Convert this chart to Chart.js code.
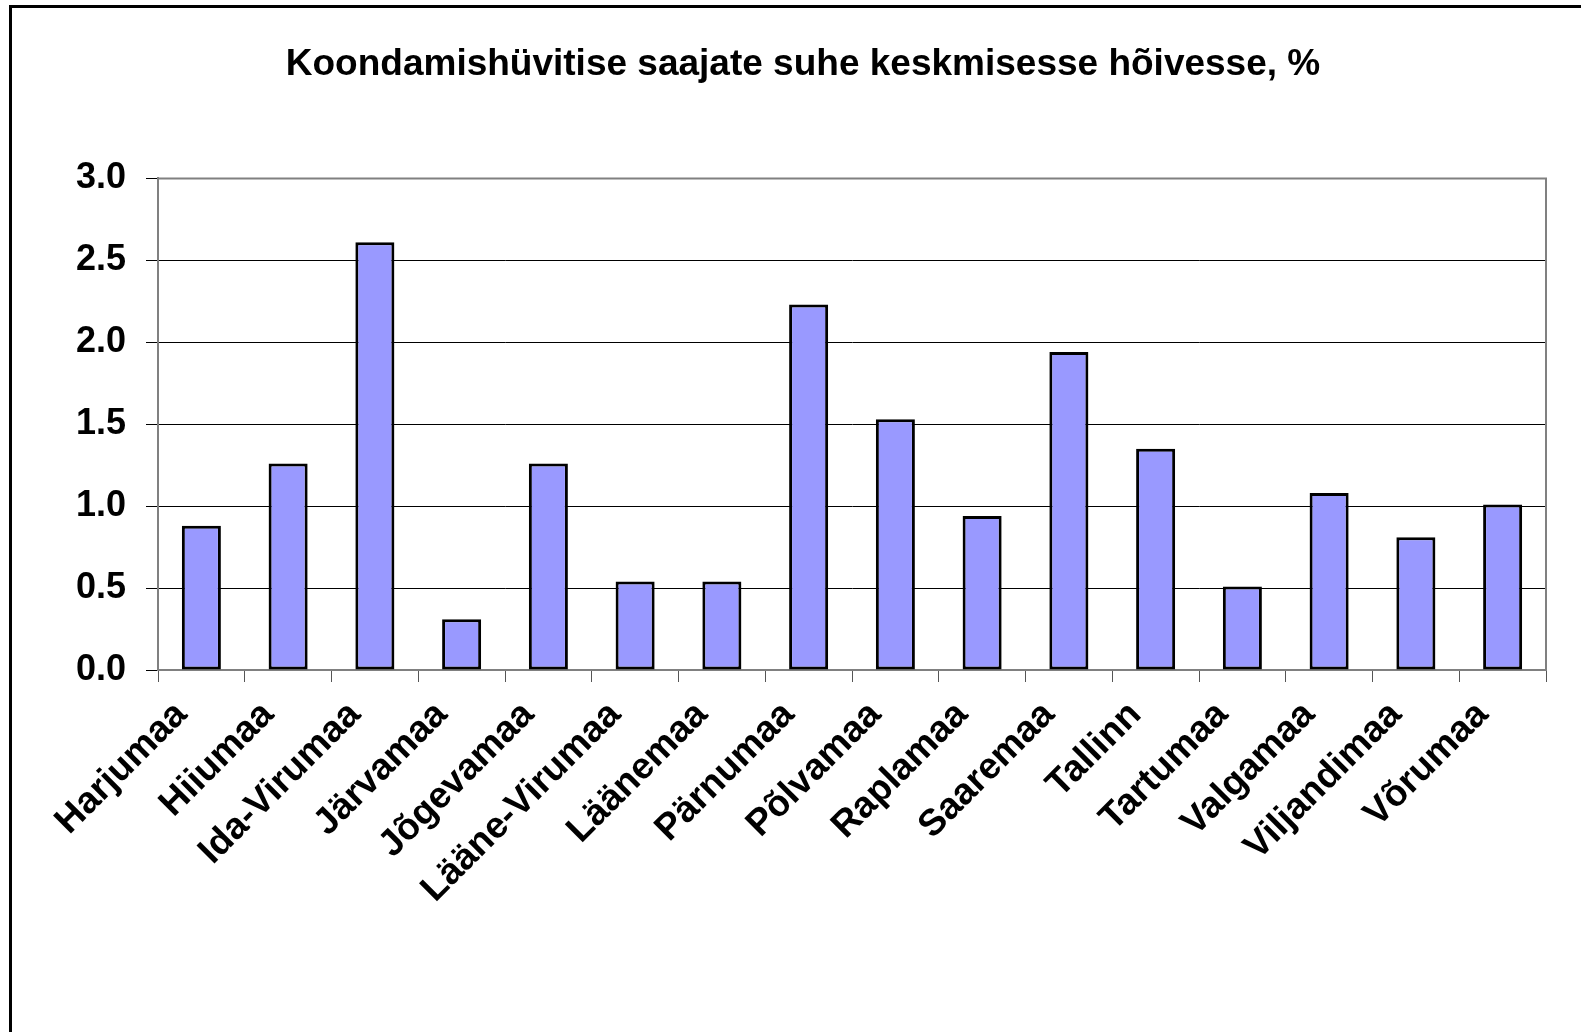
<!DOCTYPE html>
<html>
<head>
<meta charset="utf-8">
<script src="https://cdn.jsdelivr.net/npm/chart.js@4.4.1/dist/chart.umd.min.js"></script>
<style>
  html, body { margin: 0; padding: 0; background: #fff; overflow: hidden; }
  body { width: 1581px; height: 1032px; position: relative; }
  #frame { position: absolute; left: 9px; top: 5px; width: 3000px; height: 3000px;
           border-left: 3px solid #000; border-top: 3px solid #000; box-sizing: border-box; }
  #wrap { position: absolute; left: 0; top: 0; width: 1581px; height: 1032px; }
</style>
</head>
<body>
<div id="frame"></div>
<div id="wrap"><canvas id="c" width="1581" height="1032"></canvas></div>
<script>
const titleText = 'Koondamishüvitise saajate suhe keskmisesse hõivesse, %';
const categories = ['Harjumaa', 'Hiiumaa', 'Ida-Virumaa', 'Järvamaa', 'Jõgevamaa', 'Lääne-Virumaa',
  'Läänemaa', 'Pärnumaa', 'Põlvamaa', 'Raplamaa', 'Saaremaa', 'Tallinn', 'Tartumaa', 'Valgamaa',
  'Viljandimaa', 'Võrumaa'];
const values = [0.88, 1.26, 2.61, 0.31, 1.26, 0.54, 0.54, 2.23, 1.53, 0.94, 1.94, 1.35, 0.51, 1.08, 0.81, 1.01];
const yMin = 0, yMax = 3.0, yStep = 0.5;

const frameBorder = {
  id: 'frameBorder',
  afterDatasetsDraw(chart) {
    const { ctx, chartArea: a } = chart;
    ctx.save();
    ctx.strokeStyle = '#808080';
    ctx.lineWidth = 2;
    ctx.beginPath();
    ctx.moveTo(a.left, a.top);
    ctx.lineTo(a.right, a.top);
    ctx.lineTo(a.right, a.bottom);
    ctx.stroke();
    ctx.restore();
  }
};

const FONT = "'Liberation Sans', Arial, sans-serif";

new Chart(document.getElementById('c'), {
  type: 'bar',
  data: {
    labels: categories,
    datasets: [{
      data: values,
      backgroundColor: '#9999FF',
      borderColor: '#000000',
      borderWidth: 3,
      borderSkipped: false,
      barPercentage: 0.45,
      categoryPercentage: 1.0
    }]
  },
  options: {
    responsive: false,
    animation: false,
    devicePixelRatio: 1,
    layout: { padding: { left: 60, right: 35, top: 23, bottom: 0 } },
    plugins: {
      legend: { display: false },
      tooltip: { enabled: false },
      title: {
        display: true,
        text: titleText,
        color: '#000',
        font: { family: FONT, size: 37, weight: 'bold' },
        padding: { top: 20, bottom: 91 }
      }
    },
    scales: {
      x: {
        grid: { drawOnChartArea: false, drawTicks: true, tickLength: 12, color: '#555', offset: true },
        border: { color: '#808080', width: 2 },
        ticks: {
          autoSkip: false, minRotation: 45, maxRotation: 45, color: '#000', padding: 11,
          labelOffset: -20,
          font: { family: FONT, size: 37, weight: 'bold' }
        },
        afterFit(axis) { axis.height = 362; }
      },
      y: {
        min: yMin, max: yMax,
        grid: { color: '#000', lineWidth: 1, tickLength: 12 },
        border: { color: '#808080', width: 2 },
        ticks: {
          stepSize: yStep, color: '#000', padding: 20,
          font: { family: FONT, size: 36, weight: 'bold' },
          callback: (v) => Number(v).toFixed(1)
        },
        afterFit(axis) { axis.width = 98; }
      }
    }
  },
  plugins: [frameBorder]
});
</script>
</body>
</html>
